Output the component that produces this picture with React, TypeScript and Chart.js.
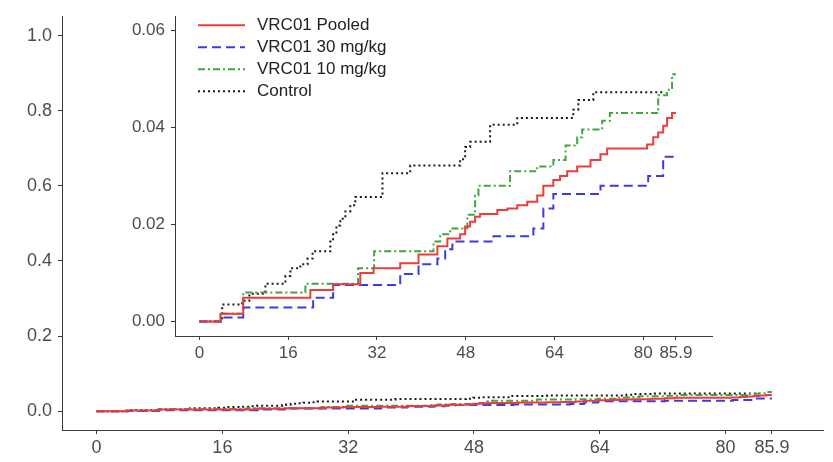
import React, { useEffect, useRef } from 'react';
import { Chart, registerables } from 'chart.js';

Chart.register(...registerables);

// ---- data ----
const xTicks = [0, 16, 32, 48, 64, 80, 85.9];
const mainYTicks = [0, 0.2, 0.4, 0.6, 0.8, 1.0];
const insetYTicks = [0, 0.02, 0.04, 0.06];
const seriesLabels = ['VRC01 Pooled', 'VRC01 30 mg/kg', 'VRC01 10 mg/kg', 'Control'];

const pooledTime = [0, 3.8, 7.9, 20.0, 24.1, 29.0, 31.4, 36.2, 39.5, 42.9, 44.7, 47.0, 47.9, 48.8, 49.7, 50.6, 53.7, 55.5, 57.3, 59.1, 60.9, 62.0, 63.8, 65.0, 66.3, 68.1, 70.5, 72.3, 73.5, 80.7, 81.8, 82.7, 83.6, 84.3, 85.2, 85.9];
const pooledCum = [0, 0.0016, 0.0049, 0.0065, 0.0077, 0.010, 0.011, 0.012, 0.0138, 0.0155, 0.0171, 0.018, 0.0196, 0.0206, 0.0216, 0.0222, 0.023, 0.0233, 0.024, 0.0247, 0.026, 0.028, 0.0292, 0.030, 0.031, 0.032, 0.0333, 0.0345, 0.0357, 0.0365, 0.038, 0.039, 0.0404, 0.042, 0.043, 0.043];

const dose30Time = [0, 3.8, 7.9, 20.5, 24.1, 36.2, 39.5, 42.9, 44.3, 45.6, 53.0, 60.2, 62.0, 63.8, 72.3, 80.9, 83.6, 85.9];
const dose30Cum = [0, 0.0008, 0.0029, 0.0049, 0.0075, 0.0098, 0.0118, 0.013, 0.0149, 0.0165, 0.0176, 0.0192, 0.0233, 0.0263, 0.028, 0.030, 0.034, 0.034];

const dose10Time = [0, 3.8, 7.9, 19.1, 28.6, 31.5, 42.2, 43.4, 45.2, 48.3, 49.7, 50.3, 56.0, 60.9, 63.8, 66.0, 68.1, 69.0, 72.6, 74.0, 82.7, 84.3, 85.2, 85.9];
const dose10Cum = [0, 0.0016, 0.006, 0.0078, 0.011, 0.0145, 0.0165, 0.018, 0.0192, 0.022, 0.026, 0.028, 0.031, 0.032, 0.0333, 0.0363, 0.038, 0.0396, 0.0414, 0.043, 0.0467, 0.0478, 0.051, 0.051];

const controlTime = [0, 4.1, 7.7, 9.0, 11.9, 15.5, 16.4, 18.2, 19.5, 20.4, 23.6, 24.1, 24.7, 25.4, 26.3, 27.2, 28.1, 33.0, 38.0, 47.0, 47.9, 48.8, 52.4, 57.3, 67.4, 68.3, 71.0, 84.0];
const controlCum = [0, 0.0035, 0.0043, 0.0057, 0.0078, 0.0094, 0.011, 0.0118, 0.013, 0.0145, 0.0165, 0.018, 0.0198, 0.0212, 0.0227, 0.024, 0.0257, 0.0306, 0.0322, 0.0335, 0.036, 0.0371, 0.0406, 0.042, 0.0437, 0.0457, 0.0473, 0.0473];

// ---- styles ----
const FONT = '"Liberation Sans", Arial, Helvetica, sans-serif';
const AXIS_COLOR = '#3a3a3a';
const TICK_TEXT = '#4d4d4d';
const seriesStyles = [
  { color: '#ee3b3b', dash: [] as number[] },
  { color: '#3a3ae6', dash: [9, 5] },
  { color: '#40a640', dash: [7, 3, 2, 3] },
  { color: '#1a1a1a', dash: [2, 3] },
];

function buildDatasets(width: number) {
  const series = [
    [pooledTime, pooledCum],
    [dose30Time, dose30Cum],
    [dose10Time, dose10Cum],
    [controlTime, controlCum],
  ];
  return series.map(([t, v], i) => ({
    label: seriesLabels[i],
    data: t.map((x, j) => ({ x, y: v[j] })),
    borderColor: seriesStyles[i].color,
    backgroundColor: seriesStyles[i].color,
    borderDash: seriesStyles[i].dash,
    borderWidth: width,
    pointRadius: 0,
    stepped: 'before' as const,
    fill: false,
  }));
}

const fmtX = (v: number) => (Math.abs(v - 85.9) < 1e-6 ? '85.9' : String(Math.round(v)));

function axisOpts(min: number, max: number, values: number[], fmt: (v: number) => string, fontSize: number, pad: number, fit: (s: any) => void) {
  return {
    type: 'linear' as const,
    min,
    max,
    afterBuildTicks: (s: any) => {
      s.ticks = values.map((v) => ({ value: v }));
    },
    afterFit: fit,
    grid: { display: true, drawOnChartArea: false, drawTicks: true, tickLength: 4, color: AXIS_COLOR, lineWidth: 1 },
    border: { display: true, color: AXIS_COLOR, width: 1 },
    ticks: {
      autoSkip: false,
      maxRotation: 0,
      minRotation: 0,
      padding: pad,
      color: TICK_TEXT,
      font: { family: FONT, size: fontSize },
      callback: (v: any) => fmt(Number(v)),
    },
  };
}

const insetLegend = {
  id: 'insetLegend',
  afterDraw(chart: any) {
    const { ctx, chartArea } = chart;
    const x0 = chartArea.left + 23;
    const x1 = x0 + 47;
    const tx = x1 + 12;
    const top = chartArea.top + 9;
    ctx.save();
    ctx.font = `17px ${FONT}`;
    ctx.textBaseline = 'middle';
    ctx.textAlign = 'left';
    chart.data.datasets.forEach((ds: any, i: number) => {
      const yy = top + i * 22;
      ctx.strokeStyle = ds.borderColor;
      ctx.lineWidth = 2;
      ctx.setLineDash(ds.borderDash || []);
      ctx.beginPath();
      ctx.moveTo(x0, yy);
      ctx.lineTo(x1, yy);
      ctx.stroke();
      ctx.setLineDash([]);
      ctx.fillStyle = '#222222';
      ctx.fillText(ds.label, tx, yy);
    });
    ctx.restore();
  },
};

export default function App() {
  const mainRef = useRef<HTMLCanvasElement | null>(null);
  const insetRef = useRef<HTMLCanvasElement | null>(null);

  useEffect(() => {
    const main = new Chart(mainRef.current as HTMLCanvasElement, {
      type: 'line',
      data: { datasets: buildDatasets(2) as any },
      options: {
        responsive: false,
        animation: false,
        devicePixelRatio: 1,
        layout: { padding: { left: 0, right: 10, top: 12, bottom: 0 } },
        plugins: { legend: { display: false }, tooltip: { enabled: false } },
        scales: {
          x: axisOpts(-4.4, 92.4, xTicks, fmtX, 18, 3, (s: any) => { s.height = 32; }),
          y: axisOpts(-0.05, 1.05, mainYTicks, (v) => v.toFixed(1), 18, 6, (s: any) => { s.width = 62; }),
        },
      } as any,
    });

    const inset = new Chart(insetRef.current as HTMLCanvasElement, {
      type: 'line',
      data: { datasets: buildDatasets(2) as any },
      options: {
        responsive: false,
        animation: false,
        devicePixelRatio: 1,
        layout: { padding: { left: 0, right: 14, top: 12, bottom: 0 } },
        plugins: { legend: { display: false }, tooltip: { enabled: false } },
        scales: {
          x: axisOpts(-4.4, 92.4, xTicks, fmtX, 17, 3, (s: any) => { s.height = 39; }),
          y: axisOpts(-0.003, 0.063, insetYTicks, (v) => v.toFixed(2), 17, 6, (s: any) => { s.width = 79; }),
        },
      } as any,
      plugins: [insetLegend],
    });

    return () => {
      main.destroy();
      inset.destroy();
    };
  }, []);

  return (
    <div style={{ position: 'absolute', left: 0, top: 0, width: 833, height: 462, background: '#ffffff', overflow: 'hidden' }}>
      <canvas ref={mainRef} width={833} height={462} style={{ position: 'absolute', left: 0, top: 0 }} />
      <canvas ref={insetRef} width={630} height={375} style={{ position: 'absolute', left: 96, top: 0 }} />
    </div>
  );
}
